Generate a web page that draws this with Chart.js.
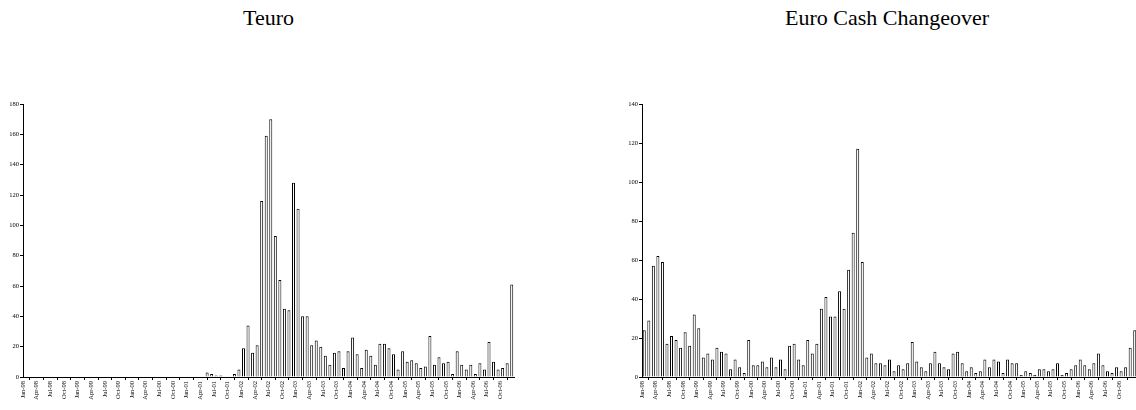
<!DOCTYPE html>
<html>
<head>
    <title>Teuro / Euro Cash Changeover</title>
    <script src="https://cdn.jsdelivr.net/npm/chart.js"></script>
    <style>
        html, body {
            margin: 0;
            padding: 0;
            background: #fff;
            width: 1136px;
            height: 410px;
            overflow: hidden;
            position: relative;
        }
        .panel {
            position: absolute;
            top: 0;
            height: 410px;
        }
        .title {
            position: absolute;
            top: 5px;
            font-family: 'Liberation Serif', serif;
            font-size: 22px;
            color: #000;
            text-align: center;
        }
    </style>
</head>
<body>
    <div class="title" style="left:0; width:537px;">Teuro</div>
    <div class="panel" style="left:0; width:537px;"><canvas id="teuroChart" width="537" height="410"></canvas></div>

    <div class="title" style="left:619px; width:536px;">Euro Cash Changeover</div>
    <div class="panel" style="left:619px; width:540px;"><canvas id="cashChart" width="540" height="410"></canvas></div>

    <script>
        // quarterly tick labels, Jan-98 .. Oct-06
        const quarterLabels = [
            'Jan-98', 'Apr-98', 'Jul-98', 'Oct-98',
            'Jan-99', 'Apr-99', 'Jul-99', 'Oct-99',
            'Jan-00', 'Apr-00', 'Jul-00', 'Oct-00',
            'Jan-01', 'Apr-01', 'Jul-01', 'Oct-01',
            'Jan-02', 'Apr-02', 'Jul-02', 'Oct-02',
            'Jan-03', 'Apr-03', 'Jul-03', 'Oct-03',
            'Jan-04', 'Apr-04', 'Jul-04', 'Oct-04',
            'Jan-05', 'Apr-05', 'Jul-05', 'Oct-05',
            'Jan-06', 'Apr-06', 'Jul-06', 'Oct-06'
        ];

        // monthly counts, Jan-98 onwards
        const teuro = [
            0, 0, 0, 0, 0, 0, 0, 0, 0, 0, 0, 0,
            0, 0, 0, 0, 0, 0, 0, 0, 0, 0, 0, 0,
            0, 0, 0, 0, 0, 0, 0, 0, 0, 0, 0, 0,
            0, 0, 0, 0, 3, 2, 1, 1, 0, 0, 2, 5,
            19, 34, 16, 21, 116, 159, 170, 93, 64, 45, 44, 128,
            111, 40, 40, 21, 24, 20, 14, 8, 16, 17, 6, 17,
            26, 15, 6, 18, 14, 8, 22, 22, 19, 15, 5, 17,
            10, 11, 9, 6, 7, 27, 8, 13, 9, 10, 2, 17,
            8, 5, 8, 2, 9, 5, 23, 10, 5, 6, 9, 61
        ];

        const cashChangeover = [
            24, 29, 57, 62, 59, 17, 21, 19, 15, 23, 16, 32,
            25, 10, 12, 9, 15, 13, 12, 4, 9, 5, 2, 19,
            6, 6, 8, 5, 10, 5, 9, 4, 16, 17, 9, 6,
            19, 12, 17, 35, 41, 31, 31, 44, 35, 55, 74, 117,
            59, 10, 12, 7, 7, 6, 9, 3, 6, 4, 7, 18,
            8, 5, 3, 7, 13, 7, 5, 4, 12, 13, 7, 3,
            5, 2, 3, 9, 5, 9, 8, 2, 9, 7, 7, 1,
            3, 2, 1, 4, 4, 3, 4, 7, 1, 2, 4, 6,
            9, 6, 4, 7, 12, 6, 3, 2, 5, 3, 5, 15,
            24
        ];

        const tickFont = { family: 'Liberation Serif', size: 6.5 };

        function makeChart(canvasId, values, yMax, rightPad) {
            const ctx = document.getElementById(canvasId).getContext('2d');
            return new Chart(ctx, {
                type: 'bar',
                data: {
                    datasets: [{
                        data: values.map((v, i) => ({ x: i + 0.5, y: v })),
                        backgroundColor: '#ffffff',
                        borderColor: '#000000',
                        borderWidth: 1,
                        barPercentage: 0.66,
                        categoryPercentage: 1
                    }]
                },
                options: {
                    responsive: false,
                    animation: false,
                    layout: {
                        padding: { top: 104, right: rightPad, bottom: 0, left: 0 }
                    },
                    plugins: {
                        legend: { display: false },
                        tooltip: { enabled: false }
                    },
                    scales: {
                        x: {
                            type: 'linear',
                            min: 0,
                            max: values.length,
                            offset: false,
                            ticks: {
                                stepSize: 3,
                                autoSkip: false,
                                maxRotation: 90,
                                minRotation: 90,
                                padding: 1,
                                color: '#000',
                                font: tickFont,
                                callback: v => quarterLabels[v / 3] || ''
                            },
                            grid: {
                                drawOnChartArea: false,
                                tickLength: 3,
                                color: '#000'
                            },
                            border: { color: '#000', width: 1 },
                            afterFit: s => { s.height = 33; }
                        },
                        y: {
                            min: 0,
                            max: yMax,
                            ticks: {
                                stepSize: 20,
                                padding: 1,
                                color: '#000',
                                font: tickFont
                            },
                            grid: {
                                drawOnChartArea: false,
                                tickLength: 3,
                                color: '#000'
                            },
                            border: { color: '#000', width: 1 },
                            afterFit: s => { s.width = 23; }
                        }
                    }
                }
            });
        }

        makeChart('teuroChart', teuro, 180, 23);
        makeChart('cashChart', cashChangeover, 140, 22);
    </script>
</body>
</html>
